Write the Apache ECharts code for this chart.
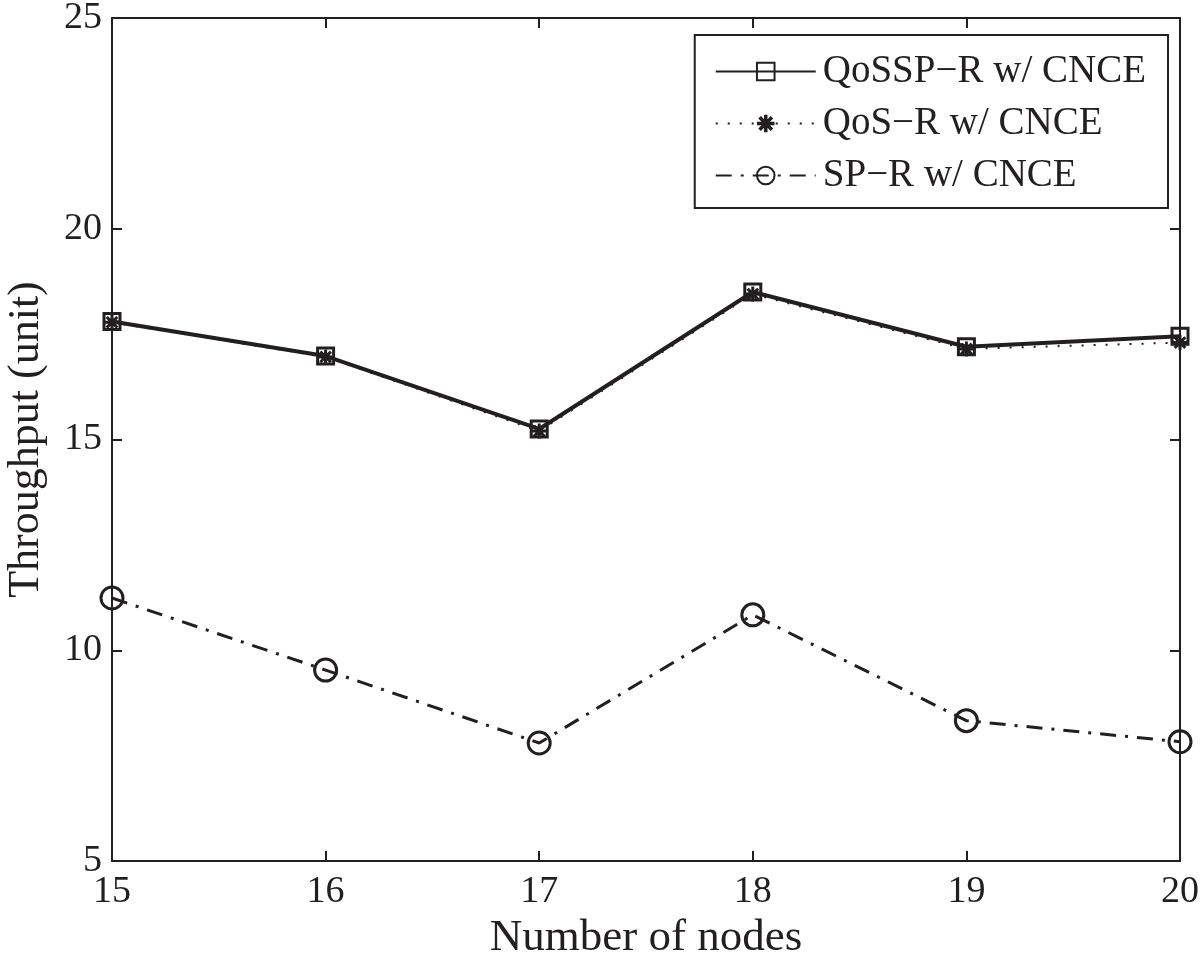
<!DOCTYPE html>
<html>
<head>
<meta charset="utf-8">
<script src="https://cdn.jsdelivr.net/npm/echarts@6/dist/echarts.min.js"></script>
<style>
  html, body { margin: 0; padding: 0; background: #fff; }
  #chart { width: 1200px; height: 962px; }
</style>
</head>
<body>
<div id="chart"></div>
<script>
// number of nodes
const nodes = [15, 16, 17, 18, 19, 20]
// throughput values
const qossp_r = [17.8, 16.98, 15.25, 18.5, 17.2, 17.45]
const qos_r = [17.78, 16.96, 15.2, 18.45, 17.15, 17.3]
const sp_r = [11.24, 9.53, 7.8, 10.84, 8.33, 7.83]

const seriesNames = ['QoSSP\u2212R w/ CNCE', 'QoS\u2212R w/ CNCE', 'SP\u2212R w/ CNCE']
const yTicks = [5, 10, 15, 20, 25]

const ink = '#231f20'
const serif = 'Liberation Serif'

// asterisk marker, four bars crossing in the middle
const asterisk = 'path://M-1,-5L1,-5L1,5L-1,5Z M-5,-1L5,-1L5,1L-5,1Z ' +
    'M-2.83,-4.25L4.25,2.83L2.83,4.25L-4.25,-2.83Z M2.83,-4.25L4.25,-2.83L-2.83,4.25L-4.25,2.83Z'

const toPairs = arr => nodes.map((n, i) => [n, arr[i]])

const chart = echarts.init(document.getElementById('chart'))

const axisCommon = {
    type: 'value',
    axisLine: { show: true, lineStyle: { color: ink, width: 2 } },
    axisTick: { show: true, inside: true, length: 10, lineStyle: { color: ink, width: 2 } },
    splitLine: { show: false },
}

chart.setOption({
    animation: false,
    textStyle: { fontFamily: serif, color: ink },
    grid: { left: 112, right: 20, top: 18, bottom: 101, outerBoundsMode: 'none' },
    legend: {
        orient: 'vertical',
        right: 32,
        top: 35,
        padding: [17, 22, 13, 20],
        itemGap: 13,
        itemWidth: 100,
        itemHeight: 22,
        borderColor: ink,
        borderWidth: 2,
        backgroundColor: '#fff',
        textStyle: { fontFamily: serif, fontSize: 39, color: ink, padding: [0, 0, 0, 2] },
        data: seriesNames,
    },
    xAxis: [
        {
            ...axisCommon,
            min: nodes[0],
            max: nodes[nodes.length - 1],
            interval: 1,
            name: 'Number of nodes',
            nameLocation: 'middle',
            nameGap: 55,
            nameTextStyle: { fontFamily: serif, fontSize: 45, color: ink },
            axisLabel: { fontFamily: serif, fontSize: 38, color: ink, margin: 12 },
        },
        {
            ...axisCommon,
            position: 'top',
            min: nodes[0],
            max: nodes[nodes.length - 1],
            interval: 1,
            axisLabel: { show: false },
        },
    ],
    yAxis: [
        {
            ...axisCommon,
            min: yTicks[0],
            max: yTicks[yTicks.length - 1],
            interval: 5,
            name: 'Throughput (unit)',
            nameLocation: 'middle',
            nameGap: 64,
            nameTextStyle: { fontFamily: serif, fontSize: 44, color: ink },
            axisLabel: { fontFamily: serif, fontSize: 38, color: ink, margin: 10 },
        },
        {
            ...axisCommon,
            position: 'right',
            min: yTicks[0],
            max: yTicks[yTicks.length - 1],
            interval: 5,
            axisLabel: { show: false },
        },
    ],
    series: [
        {
            name: seriesNames[0],
            type: 'line',
            data: toPairs(qossp_r),
            symbol: 'rect',
            symbolSize: 16,
            lineStyle: { color: ink, width: 4, type: 'solid' },
            itemStyle: { color: 'rgba(255,255,255,0)', borderColor: ink, borderWidth: 3 },
            z: 3,
        },
        {
            name: seriesNames[1],
            type: 'line',
            data: toPairs(qos_r),
            symbol: asterisk,
            symbolSize: 15,
            lineStyle: { color: ink, width: 2, type: [2, 10] },
            itemStyle: { color: ink, borderWidth: 0 },
            z: 4,
        },
        {
            name: seriesNames[2],
            type: 'line',
            data: toPairs(sp_r),
            symbol: 'circle',
            symbolSize: 22,
            lineStyle: { color: ink, width: 3, type: [16, 9, 3, 9] },
            itemStyle: { color: 'rgba(255,255,255,0)', borderColor: ink, borderWidth: 3 },
            z: 3,
        },
    ],
})
</script>
</body>
</html>
